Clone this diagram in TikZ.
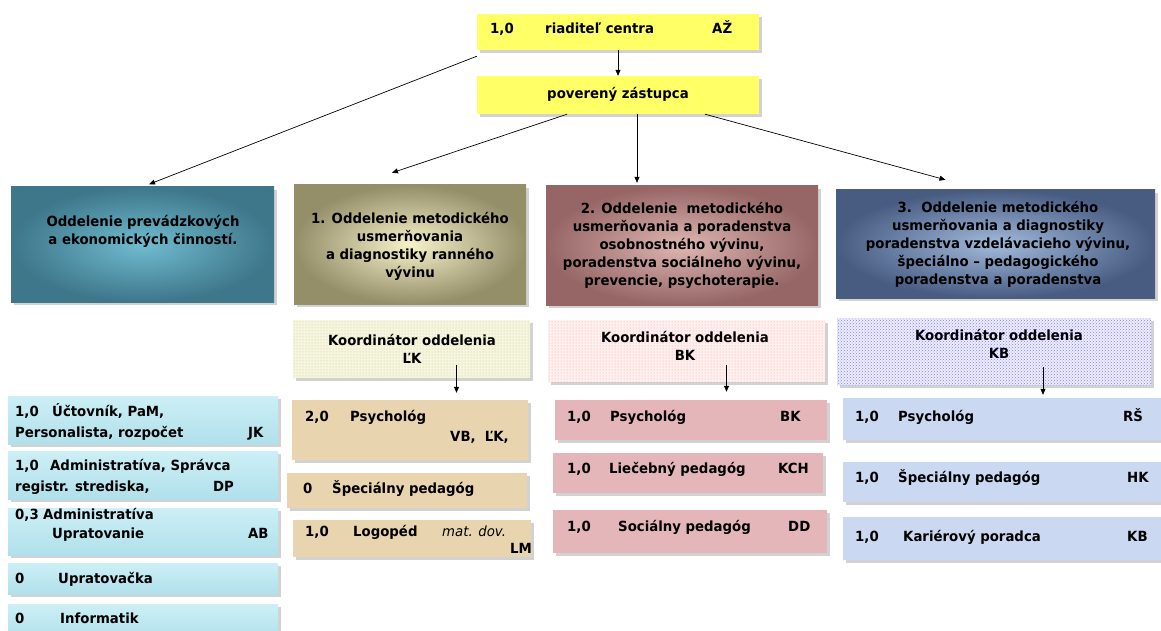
\documentclass[tikz,border=0pt]{standalone}
\usepackage{fontspec}
\setmainfont{DejaVu Sans}[FakeStretch=0.95]
\usetikzlibrary{arrows.meta,shadows,patterns,fit}

\definecolor{clryellow}{RGB}{255,255,102}
\definecolor{clrtealout}{RGB}{62,118,138}
\definecolor{clrtealin}{RGB}{112,188,208}
\definecolor{clroliveout}{RGB}{148,142,105}
\definecolor{clrolivein}{RGB}{246,242,200}
\definecolor{clrmauveout}{RGB}{150,102,102}
\definecolor{clrmauvein}{RGB}{222,182,178}
\definecolor{clrslateout}{RGB}{72,92,130}
\definecolor{clrslatein}{RGB}{162,186,220}
\definecolor{clrwater}{RGB}{176,224,235}
\definecolor{clrwatertop}{RGB}{205,239,246}
\definecolor{clrtan}{RGB}{232,212,174}
\definecolor{clrpink}{RGB}{228,182,186}
\definecolor{clrsky}{RGB}{202,216,242}

\begin{document}
\begin{tikzpicture}[x=1pt,y=-1pt,
	font=\bfseries\fontsize{14}{18}\selectfont,
	boxshadow/.style={drop shadow={shadow xshift=3pt,shadow yshift=-3pt,fill=gray!50,opacity=0.7}},
	topbox/.style={boxshadow,fill=clryellow,inner sep=0pt},
	deptbox/.style={boxshadow,inner sep=0pt,inner color=#1in,outer color=#1out},
	coordbox/.style n args={3}{boxshadow,inner sep=0pt,fill=#1,postaction={pattern=#3,pattern color=#2}},
	itembox/.style={boxshadow,inner sep=0pt,fill=#1},
	waterbox/.style={boxshadow,inner sep=0pt,top color=clrwatertop,bottom color=clrwater},
	cell/.style={anchor=west,inner sep=0pt,text height=1.6ex,text depth=.35ex},
	arr/.style={-{Triangle[length=6pt,width=5pt]},line width=0.7pt}]

\useasboundingbox (0,0) rectangle (1161,631);

% \orgbox{name}{x1}{y1}{x2}{y2}{style}
\newcommand*{\orgbox}[6]{
	\node[#6, fit={(#2,#3) (#4,#5)}] (#1) {};
}
% \celltext{name}{x}{y}{text}
\newcommand*{\celltext}[4]{
	\node[cell] (#1) at (#2,#3) {#4};
}

	% top
	\orgbox{dir}{477}{14}{759}{50}{topbox}
	\celltext{dirA}{490}{30}{1,0}
	\celltext{dirB}{545}{30}{riaditeľ centra}
	\celltext{dirC}{712}{30}{AŽ}

	\orgbox{zast}{477}{76}{759}{114}{topbox}
	\node (zastA) at (618,94) {poverený zástupca};

	% departments
	\orgbox{d0}{11}{187}{274}{302}{deptbox=clrteal}
	\orgbox{d1}{294}{185}{526}{304}{deptbox=clrolive}
	\orgbox{d2}{546}{186}{818}{305}{deptbox=clrmauve}
	\orgbox{d3}{836}{190}{1155}{298}{deptbox=clrslate}

	\node[align=center] (d0t) at (143,231) {Oddelenie prevádzkových\\a ekonomických činností.};
	\node[align=center] (d1t) at (410,246) {1. Oddelenie metodického\\usmerňovania\\a diagnostiky ranného\\vývinu};
	\node[align=center] (d2t) at (682,245) {2. Oddelenie\ \ metodického\\usmerňovania a poradenstva\\osobnostného vývinu,\\poradenstva sociálneho vývinu,\\prevencie, psychoterapie.};
	\node[align=center] (d3t) at (998,244) {3.\ \ Oddelenie metodického\\usmerňovania a diagnostiky\\poradenstva vzdelávacieho vývinu,\\špeciálno -- pedagogického\\poradenstva a poradenstva};

	\draw[arr] (dir.south) -- (zast.north);
	\draw[arr,shorten >=7pt] ([yshift=-6pt]dir.south west) -- (d0.north);
	\draw[arr] ([xshift=-51pt]zast.south) -- ([xshift=-18pt,yshift=12pt]d1.north);
	\coordinate (k0) at ([xshift=19pt]zast.south);
	\draw[arr,shorten >=3pt] (k0) -- (k0 |- d2.north);
	\draw[arr] ([xshift=87pt]zast.south) -- ([xshift=-50pt,yshift=10pt]d3.north);

	% coordinators
	\orgbox{c1}{293}{320}{530}{378}{coordbox={white!92!olive}{olive!40}{dots}}
	\orgbox{c2}{548}{320}{825}{382}{coordbox={red!6}{red!40}{dots}}
	\orgbox{c3}{837}{318}{1151}{385}{coordbox={blue!7}{blue!50}{crosshatch dots}}
	\node[align=center] (c1t) at (412,349) {Koordinátor oddelenia\\ĽK};
	\node[align=center] (c2t) at (685,346) {Koordinátor oddelenia\\BK};
	\node[align=center] (c3t) at (999,344) {Koordinátor oddelenia\\KB};

	% left column
	\orgbox{l1}{8}{396}{278}{444}{waterbox}
	\orgbox{l2}{8}{451}{278}{499}{waterbox}
	\orgbox{l3}{8}{508}{278}{555}{waterbox}
	\orgbox{l4}{8}{563}{278}{594}{waterbox}
	\orgbox{l5}{8}{604}{278}{640}{waterbox}
	\celltext{l1a}{15}{413}{1,0}
	\celltext{l1b}{52}{413}{Účtovník, PaM,}
	\celltext{l1c}{15}{434}{Personalista, rozpočet}
	\celltext{l1d}{248}{434}{JK}
	\celltext{l2a}{15}{467}{1,0}
	\celltext{l2b}{50}{467}{Administratíva, Správca}
	\celltext{l2c}{15}{488}{registr. strediska,}
	\celltext{l2d}{213}{488}{DP}
	\celltext{l3a}{15}{516}{0,3}
	\celltext{l3b}{43}{516}{Administratíva}
	\celltext{l3c}{52}{535}{Upratovanie}
	\celltext{l3d}{248}{535}{AB}
	\celltext{l4a}{15}{580}{0}
	\celltext{l4b}{58}{580}{Upratovačka}
	\celltext{l5a}{15}{620}{0}
	\celltext{l5b}{60}{620}{Informatik}

	% column 1
	\orgbox{t1}{292}{400}{528}{460}{itembox=clrtan}
	\orgbox{t2}{287}{473}{527}{508}{itembox=clrtan}
	\orgbox{t3}{293}{520}{531}{557}{itembox=clrtan}
	\celltext{t1a}{305}{418}{2,0}
	\celltext{t1b}{350}{418}{Psychológ}
	\celltext{t1c}{450}{438}{VB,\ \ ĽK,}
	\celltext{t2a}{303}{490}{0}
	\celltext{t2b}{332}{490}{Špeciálny pedagóg}
	\celltext{t3a}{305}{533}{1,0}
	\celltext{t3b}{353}{533}{Logopéd}
	\celltext{t3c}{442}{533}{\mdseries\itshape mat. dov.}
	\celltext{t3d}{510}{550}{LM}

	% column 2
	\orgbox{p1}{555}{400}{827}{440}{itembox=clrpink}
	\orgbox{p2}{553}{453}{823}{493}{itembox=clrpink}
	\orgbox{p3}{553}{510}{827}{553}{itembox=clrpink}
	\celltext{p1a}{567}{418}{1,0}
	\celltext{p1b}{610}{418}{Psychológ}
	\celltext{p1c}{780}{418}{BK}
	\celltext{p2a}{567}{470}{1,0}
	\celltext{p2b}{609}{470}{Liečebný pedagóg}
	\celltext{p2c}{778}{470}{KCH}
	\celltext{p3a}{567}{528}{1,0}
	\celltext{p3b}{618}{528}{Sociálny pedagóg}
	\celltext{p3c}{788}{528}{DD}

	% column 3
	\orgbox{b1}{843}{398}{1165}{440}{itembox=clrsky}
	\orgbox{b2}{843}{462}{1165}{502}{itembox=clrsky}
	\orgbox{b3}{843}{517}{1165}{560}{itembox=clrsky}
	\celltext{b1a}{855}{418}{1,0}
	\celltext{b1b}{898}{418}{Psychológ}
	\celltext{b1c}{1123}{418}{RŠ}
	\celltext{b2a}{855}{479}{1,0}
	\celltext{b2b}{898}{479}{Špeciálny pedagóg}
	\celltext{b2c}{1127}{479}{HK}
	\celltext{b3a}{855}{538}{1,0}
	\celltext{b3b}{903}{538}{Kariérový poradca}
	\celltext{b3c}{1127}{538}{KB}

	\coordinate (k1) at ([xshift=45pt,yshift=13pt]c1.south);
	\draw[arr,shorten >=7pt] (k1) -- (k1 |- t1.north);
	\coordinate (k2) at ([xshift=40pt,yshift=17pt]c2.south);
	\draw[arr,shorten >=8pt] (k2) -- (k2 |- p1.north);
	\coordinate (k3) at ([xshift=49pt,yshift=18pt]c3.south);
	\draw[arr,shorten >=3pt] (k3) -- (k3 |- b1.north);

\end{tikzpicture}
\end{document}
